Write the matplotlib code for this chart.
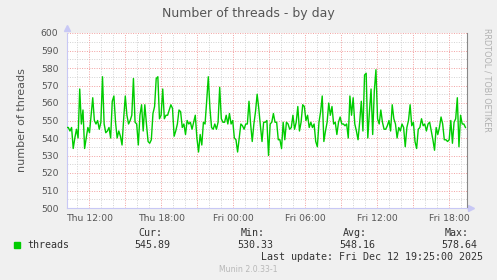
import numpy as np
import matplotlib.pyplot as plt
from matplotlib.ticker import MultipleLocator, FixedLocator

# hours counted from Thu 00:00
t_start = 10.12
t_end = 43.35

threads_a = [546, 546, 544, 546, 534, 540, 545, 540, 568, 548, 556, 534, 540, 546, 543, 553, 563, 550,
             548, 550, 545, 549, 575, 548, 543, 544, 546, 540, 561, 564, 549, 540, 544, 541, 536, 551,
             564, 553, 548, 550, 553, 574, 549, 548, 536, 553, 559, 544, 559, 548, 538, 537, 539, 554,
             558, 574, 575, 551, 553, 568, 551, 553, 553, 556, 559, 557, 541, 544, 548, 556, 555, 546,
             548, 542, 550, 548, 549, 545, 549, 553, 540, 532, 542, 536, 549, 548, 561, 575, 557, 546,
             545, 548, 545, 549, 569, 551, 549, 549, 553, 548, 554, 548, 550, 540, 539, 532, 540, 548,
             547, 545, 548, 548, 561, 548, 538, 548, 555, 565, 557, 547, 538, 549, 549, 550, 530, 548,
             549, 554, 549, 549, 539, 539, 534, 549]
threads_b = [539, 549, 548, 545, 546, 553, 545, 549, 558, 544, 549, 559, 558, 550, 553, 546, 549, 546,
             548, 538, 535, 549, 555, 564, 538, 544, 549, 560, 553, 558, 548, 549, 542, 549, 552, 548,
             548, 547, 548, 540, 564, 553, 563, 548, 544, 539, 549, 561, 544, 576, 577, 540, 555, 568,
             542, 567, 579, 551, 548, 556, 549, 545, 545, 547, 550, 544, 559, 551, 548, 540, 546, 544,
             548, 546, 535, 546, 550, 559, 547, 549, 538, 534, 545, 546, 551, 547, 548, 544, 548, 549,
             544, 539, 533, 546, 542, 546, 552, 548, 539, 539, 538, 539, 550, 537, 549, 551, 563, 535,
             553, 548, 548, 546]
threads = np.array(threads_a + threads_b)
times = np.linspace(t_start, t_end, len(threads))

tick_hours = [12, 18, 24, 30, 36, 42]
tick_labels = ['Thu 12:00', 'Thu 18:00', 'Fri 00:00', 'Fri 06:00', 'Fri 12:00', 'Fri 18:00']

stat_names = ['Cur:', 'Min:', 'Avg:', 'Max:']
stat_values = ['545.89', '530.33', '548.16', '578.64']

W, H = 497, 280
fig = plt.figure(figsize=(W / 100, H / 100), dpi=100)
fig.patch.set_facecolor('#F0F0F0')
ax = fig.add_axes([66.7 / W, 1 - 208 / H, 400 / W, 175 / H])
ax.set_facecolor('white')

ax.set_xlim(10.12, 10.12 + 400 / 12)
ax.set_ylim(500, 600)

ax.xaxis.set_major_locator(FixedLocator(tick_hours))
ax.set_xticklabels(tick_labels)
ax.yaxis.set_major_locator(MultipleLocator(10))

# grid: gray minor, red major (every 3 h / every 10)
for h in np.arange(11, 44, 1):
    if h % 3 == 0:
        ax.axvline(h, color='#F2A0A0', lw=0.7, ls=(0, (1, 1.5)), zorder=1)
    else:
        ax.axvline(h, color='#D2D2D2', lw=0.7, ls=(0, (1, 1.5)), zorder=0.5)
for v in np.arange(505, 601, 5):
    if v % 10 == 0:
        ax.axhline(v, color='#F2A0A0', lw=0.7, ls=(0, (1, 1.5)), zorder=1)
    else:
        ax.axhline(v, color='#D2D2D2', lw=0.7, ls=(0, (1, 1.5)), zorder=0.5)

ax.plot(times, threads, color='#00CC00', lw=1.0, zorder=3)

ax.tick_params(axis='both', which='both', length=0, colors='#555555', labelsize=6.7)
ax.tick_params(axis='x', pad=4)
ax.tick_params(axis='y', pad=6)
ax.spines['top'].set_visible(False)
ax.spines['left'].set_color('#C8C8F5')
ax.spines['bottom'].set_color('#C8C8F5')
ax.spines['right'].set_color('#888888')
for s in ax.spines.values():
    s.set_linewidth(0.8)

# axis arrows
ax.plot([0], [1.03], marker='^', ms=4, color='#C8C8F5', transform=ax.transAxes, clip_on=False)
ax.plot([1.01], [0], marker='>', ms=4, color='#C8C8F5', transform=ax.transAxes, clip_on=False)

ax.set_ylabel('number of threads', fontsize=8, color='#555555', labelpad=10)
fig.text(248 / W, 1 - 13 / H, 'Number of threads - by day', ha='center', va='center',
         fontsize=9, color='#555555')
fig.text(487 / W, 1 - 28 / H, 'RRDTOOL / TOBI OETIKER', rotation=270, ha='center', va='top',
         fontsize=5.9, color='#B0B0B0')

# legend
mono = 'DejaVu Sans Mono'
fig.patches.append(plt.Rectangle((14 / W, 1 - 248 / H), 6 / W, 6 / H, color='#00CC00',
                                 transform=fig.transFigure))
fig.text(27 / W, 1 - 245 / H, 'threads', ha='left', va='center', fontsize=7.2,
         family=mono, color='#333333')
name_right = [162, 265, 367, 469]
value_right = [170, 273, 375, 477]
for n, v, xn, xv in zip(stat_names, stat_values, name_right, value_right):
    fig.text(xn / W, 1 - 233 / H, n, ha='right', va='center', fontsize=7.2, family=mono, color='#333333')
    fig.text(xv / W, 1 - 245 / H, v, ha='right', va='center', fontsize=7.2, family=mono, color='#333333')
fig.text(483 / W, 1 - 257 / H, 'Last update: Fri Dec 12 19:25:00 2025', ha='right', va='center',
         fontsize=7.2, family=mono, color='#333333')
fig.text(248 / W, 1 - 269 / H, 'Munin 2.0.33-1', ha='center', va='center', fontsize=5.6,
         color='#B8B8B8')

fig.savefig('out.png', dpi=100, facecolor=fig.get_facecolor())
